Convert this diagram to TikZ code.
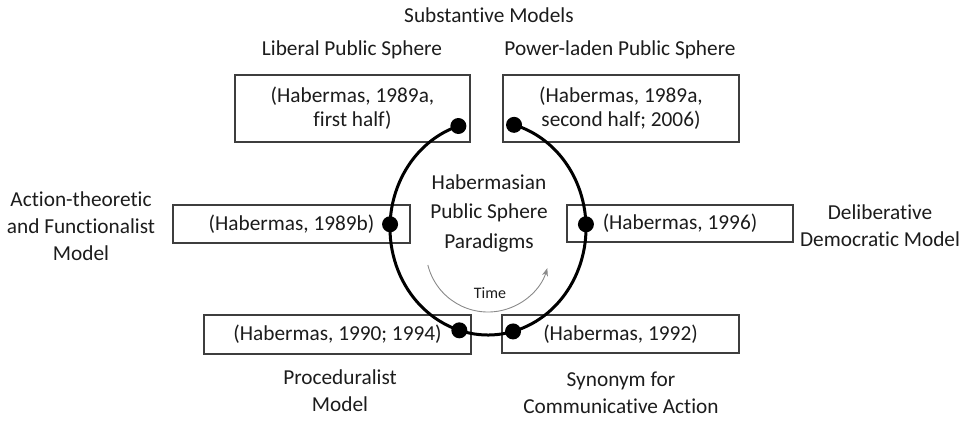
\documentclass[tikz,border=0pt]{standalone}
\usepackage{fontspec}
\setmainfont{Carlito}[Ligatures={NoCommon}]
\usetikzlibrary{arrows.meta}
\definecolor{ink}{HTML}{1C1C1C}
\definecolor{timegray}{HTML}{8A8A8A}
\begin{document}
\begin{tikzpicture}[x=1pt,y=1pt,
  every node/.style={text=ink, font=\fontsize{21.3}{24}\selectfont},
  refbox/.style={draw=ink!85, line width=1.2pt, inner sep=0pt, align=center},
  modeltext/.style={align=center, inner sep=0pt, font=\fontsize{21.3}{27}\selectfont},
  dot/.style={circle, fill=black, inner sep=0pt, minimum size=16pt},
  cycle line/.style={line width=3pt, draw=black},
  time line/.style={draw=timegray, line width=0.9pt, -{Stealth[length=8pt,width=6pt]}}]
\useasboundingbox (0,0) rectangle (966,421);

% reference boxes
\node[refbox, minimum width=235, minimum height=67] (b1) at (352.5,312.5) {(Habermas, 1989a,\\first half)};
\node[refbox, minimum width=236, minimum height=67] (b2) at (621,312.5) {(Habermas, 1989a,\\second half; 2006)};
\node[refbox, minimum width=237, minimum height=38] (b3) at (291.5,197) {(Habermas, 1989b)};
\node[refbox, minimum width=226, minimum height=37] (b4) at (680,197.5) {(Habermas, 1996)};
\node[refbox, minimum width=267, minimum height=39] (b5) at (337.5,86.5) {(Habermas, 1990; 1994)};
\node[refbox, minimum width=237, minimum height=38] (b6) at (620.5,87) {(Habermas, 1992)};

% model names
\node[modeltext] (t0) at (489,406) {Substantive Models};
\node[modeltext] (t1) at (352,371) {Liberal Public Sphere};
\node[modeltext] (t2) at (620,371) {Power-laden Public Sphere};
\node[modeltext] (t3) at (81,195) {Action-theoretic\\and Functionalist\\Model};
\node[modeltext] (t4) at (880,195) {Deliberative\\Democratic Model};
\node[modeltext] (t5) at (340,30) {Proceduralist\\Model};
\node[modeltext] (t6) at (621,28) {Synonym for\\Communicative Action};
\node[modeltext, font=\fontsize{21.3}{29.5}\selectfont] (ctr) at (489,208) {Habermasian\\Public Sphere\\Paradigms};

% time arrow
\coordinate (tc) at (488,171);
\draw[time line] ([shift={(194:62)}]tc) arc[start angle=194, end angle=343, radius=62];
\node[font=\fontsize{16}{18}\selectfont] (time) at (490,128) {Time};

% the open cycle through the paradigms
\coordinate (c) at (488,193);
\draw[cycle line] ([shift={(107.6:98 and 107)}]c) arc[start angle=107.6, end angle=434.6, x radius=98, y radius=107];
\node[dot] (d1) at ([shift={(107.6:98 and 107)}]c) {};
\node[dot] (d2) at ([shift={(178:98 and 107)}]c) {};
\node[dot] (d3) at ([shift={(253:98 and 107)}]c) {};
\node[dot] (d4) at ([shift={(284.8:98 and 107)}]c) {};
\node[dot] (d5) at ([shift={(2:98 and 107)}]c) {};
\node[dot] (d6) at ([shift={(74.6:98 and 107)}]c) {};
\end{tikzpicture}
\end{document}
